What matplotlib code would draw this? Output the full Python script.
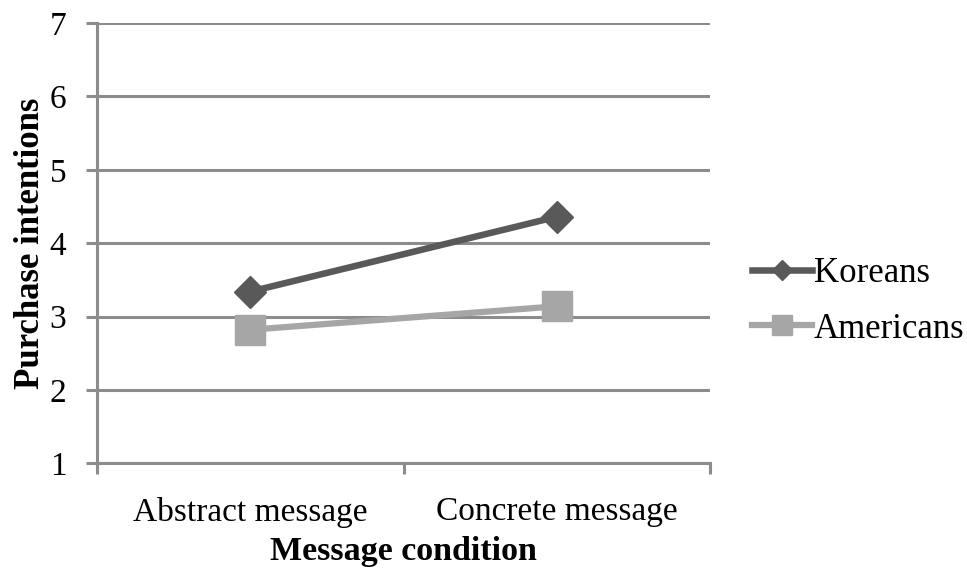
import matplotlib
matplotlib.use("Agg")
import matplotlib.pyplot as plt
from matplotlib.ticker import FixedLocator

categories = ["Abstract message", "Concrete message"]
koreans = [3.34, 4.36]
americans = [2.82, 3.14]
yticks = [1, 2, 3, 4, 5, 6, 7]

plt.rcParams['font.family'] = ['Liberation Serif', 'DejaVu Serif']

fig = plt.figure(figsize=(9.67, 5.71), dpi=100)
ax = fig.add_axes([0.1003, 0.1886, 0.634, 0.771])

x = list(range(len(categories)))
grid_c = '#8c8c8c'
ax.set_ylim(1, 7)
ax.set_xlim(-0.5, len(categories) - 0.5)
ax.set_yticks(yticks)
ax.yaxis.grid(True, color=grid_c, linewidth=2.2)
ax.set_axisbelow(True)

ax.plot(x, koreans, color='#595959', linewidth=4.7, marker='D', markersize=16,
        label='Koreans', zorder=3)
ax.plot(x, americans, color='#a6a6a6', linewidth=4.5, marker='s', markersize=22,
        label='Americans', zorder=3)

for s in ['top', 'right']:
    ax.spines[s].set_visible(False)
for s in ['left', 'bottom']:
    ax.spines[s].set_color(grid_c)
    ax.spines[s].set_linewidth(2.2)

ax.set_xticks(x)
ax.set_xticklabels(categories)
ax.xaxis.set_minor_locator(FixedLocator([-0.5, 0.5, 1.5]))
ax.tick_params(axis='x', which='major', length=0, pad=24, labelsize=24)
ax.tick_params(axis='x', which='minor', length=8, width=2.2, color=grid_c)
ax.tick_params(axis='y', length=8, width=2.2, color=grid_c, labelsize=24, pad=14)

ax.set_xlabel('Message condition', fontsize=24.5, fontweight='bold', labelpad=6)
ax.set_ylabel('Purchase intentions', fontsize=25, fontweight='bold', labelpad=2)

leg = ax.legend(loc='center left', bbox_to_anchor=(1.0685, 0.368), frameon=False,
                fontsize=25, handlelength=1.73, handletextpad=0.05,
                labelspacing=0.65, borderpad=0, borderaxespad=0, markerscale=0.65)

fig.savefig('out.png', dpi=100)
